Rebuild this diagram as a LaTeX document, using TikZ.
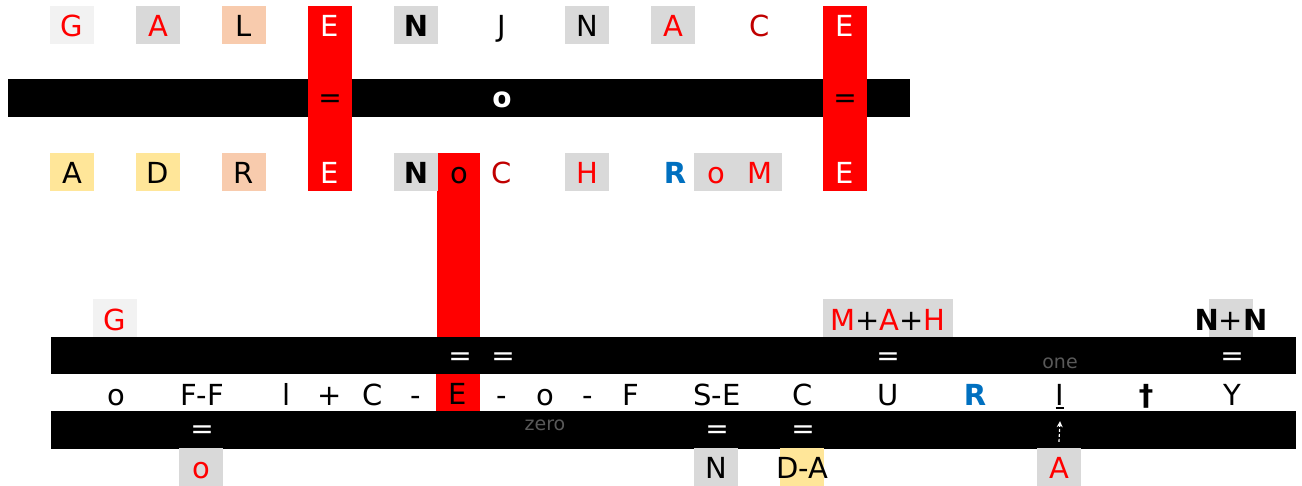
\documentclass[tikz,border=0pt]{standalone}
\usepackage{fontspec}
\setmainfont{DejaVu Sans}
\usepackage{xcolor}
\usepackage{tikz}
\usetikzlibrary{positioning}
\usetikzlibrary{arrows.meta}

\definecolor{cellgray}{HTML}{D9D9D9}
\definecolor{cellpale}{HTML}{F2F2F2}
\definecolor{cellpeach}{HTML}{F8CBAD}
\definecolor{cellyellow}{HTML}{FFE699}
\definecolor{darkred}{HTML}{C00000}
\definecolor{txtred}{HTML}{FF0000}
\definecolor{txtblue}{HTML}{0070C0}
\definecolor{txtgray}{HTML}{595959}

\begin{document}
\begin{tikzpicture}[x=1pt, y=-1pt,
    cell/.style={minimum width=44pt, minimum height=38pt, inner sep=0pt, text height=23.5pt, text depth=0pt, font=\fontsize{29}{32}\selectfont},
    letter/.style={inner sep=0pt, anchor=base, font=\fontsize{29}{32}\selectfont},
    eq/.style={inner sep=0pt, font=\fontsize{28}{30}\selectfont},
    note/.style={inner sep=0pt, text=txtgray, font=\fontsize{19}{21}\selectfont}]
    \useasboundingbox (0,0) rectangle (1302,486);

    % upper block
    \fill (8,79) rectangle (910,117);
    \fill[red] (308,6) rectangle (352,191);
    \fill[red] (823,6) rectangle (867,191);
    \fill[red] (437,153) rectangle (480,337);

    \node[cell, fill=cellpale, text=txtred] (g1) at (72,25) {G};
    \node[cell, fill=cellgray, text=txtred] (a1) at (158,25) {A};
    \node[cell, fill=cellpeach] (l1) at (244,25) {L};
    \node[cell, text=white] (e1) at (330,25) {E};
    \node[cell, fill=cellgray] (n1) at (416,25) {\bfseries N};
    \node[cell] (j1) at (502,25) {J};
    \node[cell, fill=cellgray] (n2) at (587,25) {N};
    \node[cell, fill=cellgray, text=txtred] (a2) at (673,25) {A};
    \node[cell, text=darkred] (c1) at (760,25) {C};
    \node[cell, text=white] (e2) at (845,25) {E};

    \node[eq] (q1) at (330,101) {=};
    \node[eq, text=white] (o1) at (502,100) {\bfseries o};
    \node[eq] (q2) at (845,101) {=};

    \node[cell, fill=cellyellow] (a3) at (72,172) {A};
    \node[cell, fill=cellyellow] (d1) at (158,172) {D};
    \node[cell, fill=cellpeach] (r1) at (244,172) {R};
    \node[cell, text=white] (e3) at (330,172) {E};
    \node[cell, fill=cellgray] (n3) at (416,172) {\bfseries N};
    \node[cell] (o2) at (459,172) {o};
    \node[cell, text=darkred] (c2) at (502,172) {C};
    \node[cell, fill=cellgray, text=txtred] (h1) at (587,172) {H};
    \node[cell, text=txtblue] (r2) at (675,172) {\bfseries R};
    \node[cell, fill=cellgray, text=txtred] (o3) at (716,172) {o};
    \node[cell, fill=cellgray, text=txtred] (m1) at (760,172) {M};
    \node[cell, text=white] (e4) at (845,172) {E};

    % lower block
    \fill (51,337) rectangle (1296,374);
    \fill (51,411) rectangle (1296,449);

    \node[cell, fill=cellpale, text=txtred] (g2) at (115,318.5) {G};
    \node[cell, fill=cellgray, minimum width=130pt] (mah) at (888,318.5) {\textcolor{txtred}{M}+\textcolor{txtred}{A}+\textcolor{txtred}{H}};
    \node[cell, fill=cellgray] (nn) at (1231,318.5) {\makebox[44pt]{\textbf{N}+\textbf{N}}};

    \node[eq, text=white] (q3) at (460,359) {=};
    \node[eq, text=white] (q4) at (503,359) {=};
    \node[eq, text=white] (q5) at (888,359) {=};
    \node[eq, text=white] (q6) at (1232,359) {=};
    \node[note] (one) at (1060,363) {one};

    \node[cell, fill=red, minimum height=37pt, text height=25pt] (e5) at (458,392.5) {E};
    \node[letter] (t1) at (116,406) {o};
    \node[letter] (t2) at (202,406) {F-F};
    \node[letter] (t3) at (287,406) {l};
    \node[letter] (t4) at (330,406) {+};
    \node[letter] (t5) at (373,406) {C};
    \node[letter] (t6) at (416,406) {-};
    \node[letter] (t7) at (502,406) {-};
    \node[letter] (t8) at (545,406) {o};
    \node[letter] (t9) at (588,406) {-};
    \node[letter] (t10) at (631,406) {F};
    \node[letter] (t11) at (717,406) {S-E};
    \node[letter] (t12) at (803,406) {C};
    \node[letter] (t13) at (888,406) {U};
    \node[letter, text=txtblue] (t14) at (975,406) {\bfseries R};
    \node[letter] (t15) at (1060,406) {I};
    \node[letter] (t16) at (1146,406) {\bfseries †};
    \node[letter] (t17) at (1232,406) {Y};
    \draw[line width=2pt] ([yshift=-2pt]t15.south west) -- ([yshift=-2pt]t15.south east);

    \node[note] (zero) at (545,425) {zero};
    \node[eq, text=white] (q7) at (202,432) {=};
    \node[eq, text=white] (q8) at (717,432) {=};
    \node[eq, text=white] (q9) at (803,432) {=};

    \node[cell, fill=cellgray, text=txtred] (o4) at (201,467) {o};
    \node[cell, fill=cellgray] (n4) at (716,467) {N};
    \node[cell, fill=cellyellow] (da) at (802,467) {\makebox[44pt]{D-A}};
    \node[cell, fill=cellgray, text=txtred] (a4) at (1059,467) {A};

    \draw[white, line width=1.2pt, dash pattern=on 3pt off 2pt, -{Stealth[length=6pt, width=6pt]}] ([yshift=6pt]a4.north) -- ([yshift=-15pt]t15.south);
\end{tikzpicture}
\end{document}
